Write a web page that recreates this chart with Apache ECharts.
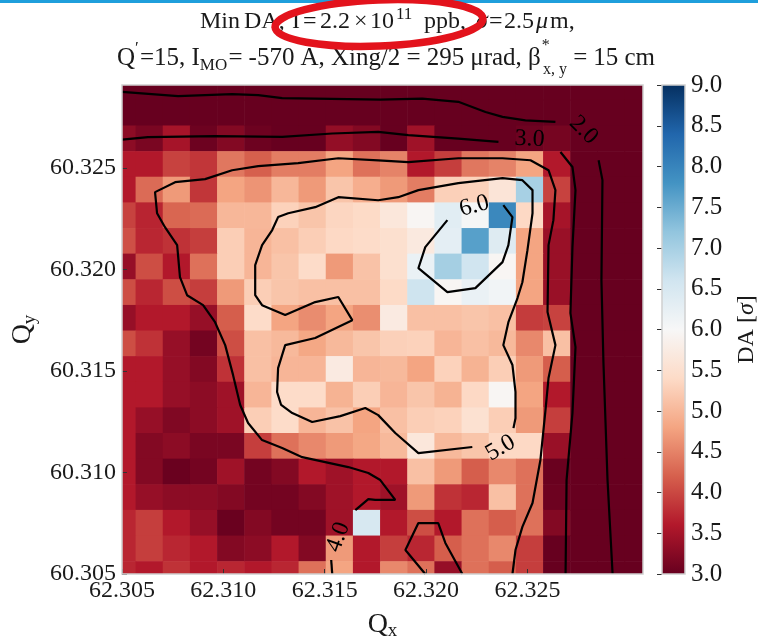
<!DOCTYPE html>
<html>
<head>
<meta charset="utf-8">
<title>Min DA tune scan</title>
<script src="https://cdn.jsdelivr.net/npm/echarts@6.0.0/dist/echarts.min.js"></script>
<style>
  html, body { margin: 0; padding: 0; background: #fff; }
  #chart { width: 758px; height: 637px; }
</style>
</head>
<body>
<div id="chart"></div>
<script>
// cell centres of the tune scan
var qx = [62.30500, 62.30634, 62.30768, 62.30902, 62.31036, 62.31170, 62.31304, 62.31438, 62.31572, 62.31706,
          62.31840, 62.31974, 62.32108, 62.32242, 62.32376, 62.32510, 62.32644, 62.32778, 62.32912, 62.33046];
var qy = [60.30500, 60.30626, 60.30753, 60.30879, 60.31005, 60.31132, 60.31258, 60.31384, 60.31511, 60.31637,
          60.31763, 60.31889, 60.32016, 60.32142, 60.32268, 60.32395, 60.32521, 60.32647, 60.32774, 60.32900];

// minimum DA [sigma], one row per Qy, listed from the top row (last qy) down to the first
var daRows = [
  [1.8, 1.8, 1.8, 1.8, 1.8, 1.8, 1.8, 1.8, 1.8, 1.8, 1.8, 1.8, 1.8, 1.7, 1.6, 1.6, 1.6, 1.5, 1.5, 1.5],
  [2.4, 2.4, 2.4, 2.4, 2.4, 2.4, 2.4, 2.3, 2.3, 2.3, 2.3, 2.2, 2.2, 2.1, 2.1, 2.0, 2.0, 1.9, 1.7, 1.5],
  [3.3, 3.15, 3.5, 3.05, 3.22, 3.05, 3.0, 3.0, 3.35, 3.22, 2.95, 3.45, 2.95, 2.9, 2.9, 3.05, 3.12, 2.6, 1.8, 1.5],
  [3.6, 3.6, 3.95, 3.85, 4.4, 4.2, 4.45, 4.45, 4.8, 4.35, 4.5, 3.6, 3.92, 4.4, 4.5, 4.8, 3.6, 2.6, 1.8, 1.5],
  [3.6, 4.3, 4.7, 3.85, 4.8, 4.65, 5.0, 4.7, 5.15, 4.9, 4.7, 4.45, 5.28, 5.3, 5.6, 7.0, 3.95, 2.6, 1.8, 1.5],
  [3.95, 3.7, 4.25, 4.3, 5.0, 5.0, 5.3, 5.15, 5.35, 5.4, 5.65, 5.95, 6.35, 6.05, 7.95, 5.38, 3.5, 2.6, 1.8, 1.5],
  [4.07, 3.72, 3.82, 3.92, 5.25, 4.98, 5.1, 5.25, 5.38, 5.42, 5.5, 5.7, 6.3, 7.65, 6.4, 4.8, 3.4, 2.6, 1.8, 1.5],
  [3.38, 4.05, 3.6, 4.35, 5.25, 4.98, 5.15, 5.42, 4.7, 5.12, 5.5, 6.2, 7.02, 6.6, 5.95, 4.8, 3.4, 2.6, 1.8, 1.5],
  [4.05, 3.72, 4.05, 3.92, 4.7, 5.25, 5.15, 5.1, 5.1, 5.1, 5.4, 6.62, 5.95, 6.2, 6.1, 4.8, 3.4, 2.6, 1.8, 1.5],
  [3.38, 3.6, 3.6, 3.38, 4.18, 5.42, 4.8, 4.58, 4.8, 4.6, 5.72, 5.1, 5.1, 5.15, 5.1, 3.9, 3.95, 2.6, 1.8, 1.5],
  [4.05, 3.82, 3.38, 3.1, 4.05, 5.1, 5.02, 4.83, 5.02, 5.15, 5.28, 5.3, 4.98, 5.1, 5.02, 4.55, 5.1, 2.6, 1.8, 1.5],
  [3.6, 3.6, 3.38, 3.22, 3.82, 5.1, 4.98, 4.98, 5.72, 4.98, 5.02, 4.8, 5.3, 4.95, 5.25, 4.7, 4.18, 2.6, 1.8, 1.5],
  [3.6, 3.6, 3.38, 3.3, 3.45, 4.98, 5.42, 5.42, 4.95, 5.25, 4.98, 5.15, 4.95, 5.38, 5.95, 4.8, 3.6, 2.6, 1.8, 1.5],
  [3.6, 3.38, 3.2, 3.3, 3.45, 5.25, 5.42, 4.98, 5.12, 4.8, 5.1, 5.25, 5.3, 5.52, 5.25, 4.7, 3.92, 2.6, 1.8, 1.5],
  [3.6, 3.22, 3.3, 3.15, 3.15, 3.92, 4.35, 4.55, 4.7, 4.83, 5.02, 5.65, 5.02, 5.15, 5.38, 5.38, 3.4, 2.6, 1.8, 1.5],
  [3.6, 3.22, 3.02, 3.1, 3.45, 3.1, 3.22, 3.6, 3.45, 3.6, 3.6, 5.1, 4.7, 4.18, 4.55, 4.35, 3.02, 2.6, 1.8, 1.5],
  [3.6, 3.38, 3.3, 3.3, 3.22, 3.1, 3.1, 3.22, 3.45, 3.6, 3.45, 4.7, 3.82, 3.72, 5.1, 4.35, 3.05, 2.6, 1.8, 1.5],
  [3.72, 3.92, 3.6, 3.38, 3.02, 3.22, 3.1, 3.1, 3.45, 6.5, 3.6, 4.05, 3.6, 4.35, 4.18, 4.35, 3.22, 2.6, 1.8, 1.5],
  [3.72, 3.92, 3.72, 3.6, 3.22, 3.3, 3.6, 3.22, 4.7, 3.6, 3.92, 3.72, 4.18, 4.35, 4.55, 3.92, 3.0, 2.6, 1.8, 1.5],
  [3.72, 3.6, 3.82, 3.6, 3.72, 3.6, 3.72, 4.35, 4.8, 3.6, 4.55, 4.35, 3.38, 4.35, 4.18, 3.92, 3.0, 2.6, 1.8, 1.5]
];

// contour lines, [Qx, Qy]
var c2Top = [[62.30500, 60.32876], [62.30777, 60.32855], [62.31043, 60.32865], [62.31172, 60.32860], [62.31290, 60.32845],
  [62.31774, 60.32838], [62.31981, 60.32843], [62.32159, 60.32827], [62.32293, 60.32777], [62.32377, 60.32753],
  [62.32490, 60.32736], [62.32638, 60.32728]];
var c2Right = [[62.32851, 60.32539], [62.32870, 60.32441], [62.32865, 60.31948], [62.32875, 60.31539], [62.32895, 60.30963],
  [62.32920, 60.30500]];
var c3Top = [[62.30500, 60.32641], [62.30628, 60.32653], [62.30959, 60.32658], [62.31290, 60.32654], [62.31537, 60.32671],
  [62.31764, 60.32679], [62.31912, 60.32663], [62.32159, 60.32646], [62.32357, 60.32630]];
var c3Right = [[62.32663, 60.32580], [62.32722, 60.32506], [62.32737, 60.32392], [62.32722, 60.32111], [62.32712, 60.31786],
  [62.32737, 60.31618], [62.32722, 60.31293], [62.32693, 60.30963], [62.32688, 60.30500]];
var c4Main = [[62.32426, 60.30500], [62.32441, 60.30618], [62.32475, 60.30732], [62.32525, 60.30850], [62.32564, 60.31062],
  [62.32589, 60.31308], [62.32604, 60.31466], [62.32638, 60.31628], [62.32599, 60.31791], [62.32604, 60.32121],
  [62.32628, 60.32244], [62.32638, 60.32392], [62.32604, 60.32490], [62.32515, 60.32539], [62.32377, 60.32549],
  [62.32159, 60.32549], [62.31912, 60.32530], [62.31764, 60.32539], [62.31567, 60.32549], [62.31369, 60.32525],
  [62.31172, 60.32510], [62.31043, 60.32490], [62.30910, 60.32446], [62.30762, 60.32431], [62.30663, 60.32382],
  [62.30673, 60.32278], [62.30712, 60.32209], [62.30772, 60.32121], [62.30786, 60.31963], [62.30821, 60.31874],
  [62.30900, 60.31825], [62.30959, 60.31741], [62.31009, 60.31628], [62.31048, 60.31480], [62.31083, 60.31333],
  [62.31122, 60.31244], [62.31191, 60.31160], [62.31290, 60.31121], [62.31389, 60.31076], [62.31616, 60.31027],
  [62.31715, 60.30998], [62.31774, 60.30963], [62.31848, 60.30865], [62.31749, 60.30865], [62.31715, 60.30869],
  [62.31651, 60.30815]];
var c4Tail = [[62.31532, 60.30569], [62.31537, 60.30500]];
var c4Lobe = [[62.31996, 60.30500], [62.31898, 60.30618], [62.31962, 60.30751], [62.32060, 60.30751], [62.32095, 60.30653],
  [62.32179, 60.30500]];
var c5 = [[62.32228, 60.31126], [62.31962, 60.31096], [62.31848, 60.31195], [62.31764, 60.31283], [62.31700, 60.31318],
  [62.31577, 60.31278], [62.31438, 60.31249], [62.31340, 60.31293], [62.31285, 60.31333], [62.31265, 60.31397],
  [62.31270, 60.31515], [62.31305, 60.31628], [62.31453, 60.31663], [62.31636, 60.31751], [62.31567, 60.31865],
  [62.31453, 60.31840], [62.31305, 60.31776], [62.31191, 60.31825], [62.31157, 60.31874], [62.31157, 60.32022],
  [62.31191, 60.32121], [62.31241, 60.32195], [62.31270, 60.32259], [62.31320, 60.32278], [62.31453, 60.32308],
  [62.31567, 60.32357], [62.31764, 60.32342], [62.31863, 60.32357], [62.31962, 60.32392], [62.32159, 60.32426],
  [62.32377, 60.32451], [62.32475, 60.32441], [62.32525, 60.32392], [62.32525, 60.32278], [62.32500, 60.32096],
  [62.32475, 60.31938], [62.32451, 60.31860], [62.32406, 60.31741], [62.32381, 60.31628], [62.32426, 60.31530],
  [62.32441, 60.31397], [62.32441, 60.31268], [62.32431, 60.31219]];
var c6 = [[62.32105, 60.32244], [62.31996, 60.32111], [62.31962, 60.32007], [62.32105, 60.31889], [62.32243, 60.31909],
  [62.32377, 60.32037], [62.32406, 60.32121], [62.32426, 60.32259], [62.32381, 60.32318]];

var levelNames = ['2.0', '3.0', '4.0', '5.0', '6.0'];
var levelLabelAt = [[62.32777, 60.32687], [62.32510, 60.32643], [62.31567, 60.30682], [62.32367, 60.31121], [62.32238, 60.32313]];

var qxTicks = [62.305, 62.310, 62.315, 62.320, 62.325];
var qyTicks = [60.305, 60.310, 60.315, 60.320, 60.325];
var daMin = 3.0, daMax = 9.0;
// matplotlib RdBu, low -> high
var rdbu = ['#67001f', '#b2182b', '#d6604d', '#f4a582', '#fddbc7', '#f7f7f7', '#d1e5f0', '#92c5de', '#4393c3', '#2166ac', '#053061'];

var serif = 'Liberation Serif';
var ink = '#1a1a1a';

// heatmap cells as [qx, qy, da, i, j]
var cells = [];
daRows.forEach(function (row, r) {
    var j = daRows.length - 1 - r;
    row.forEach(function (v, i) {
        cells.push([qx[i], qy[j], v, i, j]);
    });
});

function edge(arr, k, side) {
    var n = arr.length;
    if (side < 0) {
        return k > 0 ? (arr[k - 1] + arr[k]) / 2 : arr[0] - (arr[1] - arr[0]) / 2;
    }
    return k < n - 1 ? (arr[k] + arr[k + 1]) / 2 : arr[n - 1] + (arr[n - 1] - arr[n - 2]) / 2;
}

// title pieces
var titleStyles = {
    n: { size: 25, dy: 0 },
    n1: { size: 24, dy: 0 },
    it: { size: 24, dy: 0, italic: true },
    sup: { size: 17, dy: -7 },
    prime: { size: 17, dy: -9 },
    sub: { size: 17, dy: 8 },
    star: { size: 16, dy: -12, noAdvance: true },
    sub2: { size: 16, dy: 12 }
};
// first line: [text, style, left x]
var title1 = [['Min', 'n1', 200], ['DA,', 'n1', 244], ['I', 'n1', 292], ['=', 'n1', 303], ['2.2', 'n1', 320],
    ['×', 'n1', 354], ['10', 'n1', 370], ['11', 'sup', 396], ['ppb,', 'n1', 424], ['σ', 'it', 476],
    ['=', 'n1', 489], ['2.5', 'n1', 504], ['μ', 'it', 536], ['m,', 'n1', 550]];
// second line: [text, style, space before (weight)]
var title2 = [['Q', 'n', 0], ['′', 'prime', 0], ['=15,', 'n', 0.2], ['I', 'n', 1], ['MO', 'sub', 0], ['=', 'n', 0.2],
    ['-570', 'n', 1], ['A,', 'n', 1], ['Xing/2', 'n', 1], ['=', 'n', 1], ['295', 'n', 1], ['μrad,', 'n', 1],
    ['β', 'n', 1], ['*', 'star', 0.2], ['x, y', 'sub2', 0.2], ['=', 'n', 1], ['15', 'n', 1], ['cm', 'n', 1]];

function textEl(str, st, x, yMid) {
    return {
        type: 'text', z: 40, x: x, y: yMid + st.dy,
        style: {
            text: str, fill: ink, fontFamily: serif, fontSize: st.size,
            fontStyle: st.italic ? 'italic' : 'normal',
            align: 'left', verticalAlign: 'middle', textAlign: 'left', textVerticalAlign: 'middle'
        }
    };
}

function placeLine(parts, yMid) {
    return parts.map(function (p) { return textEl(p[0], titleStyles[p[1]], p[2], yMid); });
}

function spreadLine(parts, x0, x1, yMid) {
    var ctx = document.createElement('canvas').getContext('2d');
    var widths = [], total = 0, weights = 0;
    parts.forEach(function (p, k) {
        var st = titleStyles[p[1]];
        ctx.font = (st.italic ? 'italic ' : '') + st.size + 'px "' + serif + '"';
        widths[k] = st.noAdvance ? 0 : ctx.measureText(p[0]).width;
        total += widths[k];
        if (k > 0) { weights += p[2]; }
    });
    var unit = weights > 0 ? Math.max(0, (x1 - x0 - total) / weights) : 0;
    var x = x0, els = [];
    parts.forEach(function (p, k) {
        if (k > 0) { x += p[2] * unit; }
        els.push(textEl(p[0], titleStyles[p[1]], x, yMid));
        x += widths[k];
    });
    return els;
}

var myChart = echarts.init(document.getElementById('chart'));

var contourSeries = [c2Top, c2Right, c3Top, c3Right, c4Main, c4Tail, c4Lobe, c5, c6].map(function (d) {
    return {
        type: 'line',
        data: d,
        showSymbol: false,
        symbol: 'none',
        smooth: false,
        clip: true,
        z: 5,
        lineStyle: { color: '#000', width: 2.2 }
    };
});

var labelAngles = [-45, -3, 70, 30, 15];
var labelSeries = {
    type: 'scatter',
    symbolSize: 0,
    itemStyle: { color: 'rgba(0,0,0,0)' },
    z: 6,
    data: levelNames.map(function (nm, k) {
        return {
            name: nm,
            value: levelLabelAt[k],
            label: { rotate: labelAngles[k] }
        };
    }),
    label: {
        show: true,
        position: 'inside',
        formatter: '{b}',
        fontFamily: serif,
        fontSize: 24,
        color: '#000',
        opacity: 1
    },
    labelLayout: { hideOverlap: false }
};

var nameRich = {
    q: { fontFamily: serif, fontSize: 28, color: ink, verticalAlign: 'top', lineHeight: 30 },
    s: { fontFamily: serif, fontSize: 19, color: ink, verticalAlign: 'bottom', lineHeight: 20, padding: [14, 0, 0, 0] }
};

var option = {
    backgroundColor: '#fff',
    animation: false,
    grid: [
        { left: 122, top: 85, width: 521, height: 489, outerBoundsMode: 'none', containLabel: false },
        { left: 662, top: 85, width: 23, height: 489, outerBoundsMode: 'none', containLabel: false }
    ],
    xAxis: [
        {
            type: 'value', gridIndex: 0, min: 62.305, max: 62.3307, interval: 0.005, z: 10,
            name: '{q|Q}{s|x}', nameLocation: 'middle', nameGap: 36,
            nameTextStyle: { rich: nameRich },
            axisLine: { show: false },
            axisTick: { inside: true, length: 5, lineStyle: { color: '#333' }, customValues: qxTicks },
            axisLabel: {
                fontFamily: serif, fontSize: 24, color: ink, margin: 5, customValues: qxTicks,
                formatter: function (v) { return v.toFixed(3); }
            },
            splitLine: { show: false }
        },
        { type: 'value', gridIndex: 1, min: 0, max: 1, show: false }
    ],
    yAxis: [
        {
            type: 'value', gridIndex: 0, min: 60.305, max: 60.3291, interval: 0.005, z: 10,
            name: '{q|Q}{s|y}', nameLocation: 'middle', nameGap: 80, nameRotate: 90,
            nameTextStyle: { rich: nameRich },
            axisLine: { show: false },
            axisTick: { inside: true, length: 5, lineStyle: { color: '#333' }, customValues: qyTicks },
            axisLabel: {
                fontFamily: serif, fontSize: 24, color: ink, margin: 6, customValues: qyTicks,
                formatter: function (v) { return v.toFixed(3); }
            },
            splitLine: { show: false }
        },
        {
            type: 'value', gridIndex: 1, min: daMin, max: daMax, interval: 0.5, position: 'right', z: 10,
            name: '{n|DA [}{i|σ}{n|]}', nameLocation: 'middle', nameGap: 50, nameRotate: 90,
            nameTextStyle: {
                rich: {
                    n: { fontFamily: serif, fontSize: 24, color: ink },
                    i: { fontFamily: serif, fontSize: 24, fontStyle: 'italic', color: ink }
                }
            },
            axisLine: { show: false },
            axisTick: { inside: true, length: 5, lineStyle: { color: '#333' } },
            axisLabel: {
                fontFamily: serif, fontSize: 25, color: ink, margin: 6,
                formatter: function (v) { return v.toFixed(1); }
            },
            splitLine: { show: false }
        }
    ],
    visualMap: {
        show: false,
        type: 'continuous',
        seriesIndex: 0,
        dimension: 2,
        min: daMin,
        max: daMax,
        inRange: { color: rdbu }
    },
    series: [
        {
            type: 'custom',
            xAxisIndex: 0,
            yAxisIndex: 0,
            encode: { x: 0, y: 1 },
            data: cells,
            z: 2,
            renderItem: function (params, api) {
                var i = api.value(3), j = api.value(4);
                var p0 = api.coord([edge(qx, i, -1), edge(qy, j, 1)]);
                var p1 = api.coord([edge(qx, i, 1), edge(qy, j, -1)]);
                var shape = echarts.graphic.clipRectByRect(
                    { x: p0[0], y: p0[1], width: p1[0] - p0[0] + 0.6, height: p1[1] - p0[1] + 0.6 },
                    { x: params.coordSys.x, y: params.coordSys.y, width: params.coordSys.width, height: params.coordSys.height }
                );
                if (!shape) { return; }
                return { type: 'rect', shape: shape, style: { fill: api.visual('color') } };
            }
        }
    ].concat(contourSeries, [labelSeries, {
        type: 'custom',
        xAxisIndex: 1,
        yAxisIndex: 1,
        encode: { x: 0, y: 1 },
        data: [[0, daMin, daMax]],
        renderItem: function (params, api) {
            var p0 = api.coord([0, api.value(2)]);
            var p1 = api.coord([1, api.value(1)]);
            var stops = rdbu.map(function (c, k) { return { offset: k / (rdbu.length - 1), color: c }; });
            return {
                type: 'rect',
                shape: { x: p0[0], y: p0[1], width: p1[0] - p0[0], height: p1[1] - p0[1] },
                style: { fill: new echarts.graphic.LinearGradient(0, 1, 0, 0, stops) }
            };
        }
    }]),
    graphic: [
        { type: 'rect', z: 50, shape: { x: 0, y: 0, width: 758, height: 3 }, style: { fill: '#1f9fdc' } },
        // frames
        { type: 'rect', z: 50, shape: { x: 122, y: 85, width: 521, height: 489 }, style: { fill: 'none', stroke: '#cfcfcf', lineWidth: 1.5 } },
        { type: 'rect', z: 50, shape: { x: 662, y: 85, width: 23, height: 489 }, style: { fill: 'none', stroke: '#cfcfcf', lineWidth: 1.5 } }
    ].concat(placeLine(title1, 22), spreadLine(title2, 117, 655, 58), [
        // red mark round the intensity
        { type: 'ellipse', z: 60, shape: { cx: 379, cy: 23, rx: 104, ry: 23 }, rotation: 0.04, originX: 379, originY: 23,
          style: { fill: 'none', stroke: '#e3131c', lineWidth: 7.5 } }
    ])
};

myChart.setOption(option);
</script>
</body>
</html>
